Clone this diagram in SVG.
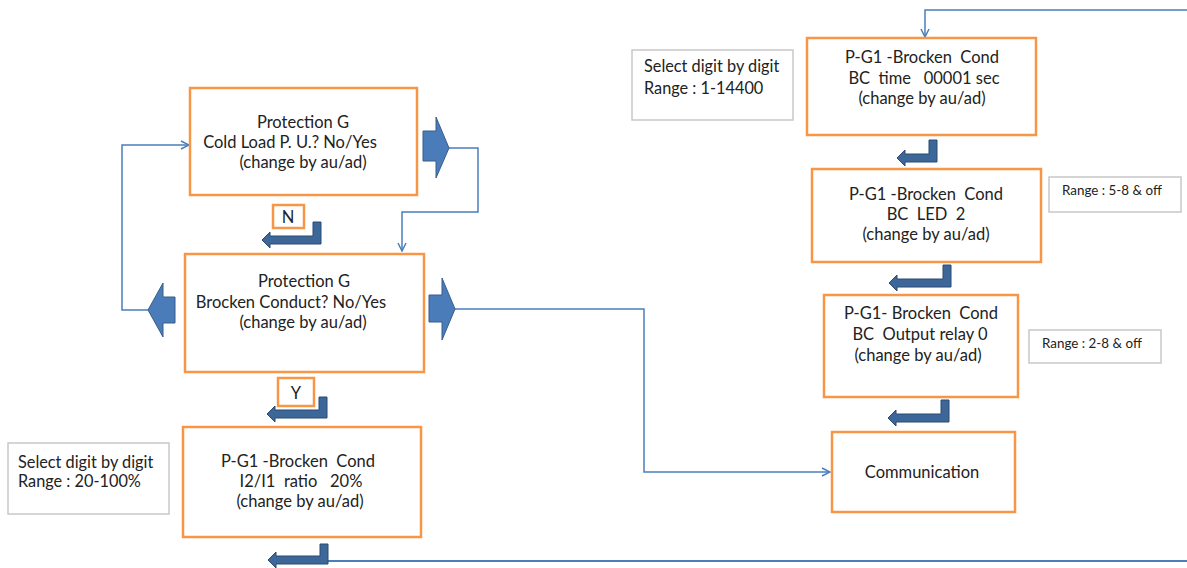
<svg xmlns="http://www.w3.org/2000/svg" width="1187" height="568" viewBox="0 0 1187 568">
<style>
.box{fill:#fff;stroke:#f79646;stroke-width:2.5}
.note{fill:#fff;stroke:#c8c8c8;stroke-width:1.5}
.t{font-family:Lato,"Liberation Sans",sans-serif;fill:#222;text-anchor:middle}
.L{font-size:16.5px}
.R{font-size:16.5px}
.n{font-size:16.3px;text-anchor:start}
.s{font-size:13.4px;text-anchor:start}
.blk{fill:#4a7cb9;stroke:#385d8a;stroke-width:1}
.bent{fill:#3d6699;stroke:#2c4a70;stroke-width:1}
.con{fill:none;stroke:#4a7ebb;stroke-width:1.5}
</style>
<defs>
<marker id="ah" viewBox="0 0 10 10" refX="9" refY="5" markerWidth="10" markerHeight="10" markerUnits="userSpaceOnUse" orient="auto">
<path d="M1,1 L9,5 L1,9" fill="none" stroke="#4a7ebb" stroke-width="1.5"/>
</marker>
</defs>

<g id="connectors">
<path class="con" d="M449,148 H478 V212 H402 V251" marker-end="url(#ah)"/>
<path class="con" d="M148,310 H122 V145 H189" marker-end="url(#ah)"/>
<path class="con" d="M455,309 H644 V472 H830" marker-end="url(#ah)"/>
<path class="con" d="M1187,10 H925 V37" marker-end="url(#ah)"/>
<path class="con" style="stroke-width:2" d="M328,561 H1187"/>
<path class="blk" d="M423,131 H436 V117 L449,148 L436,178 V161 H423 Z"/>
<path class="blk" d="M175,297 H163 V283 L148,310 L163,337 V323 H175 Z"/>
<path class="blk" d="M429,295 H442 V278 L455,309 L442,340 V322 H429 Z"/>
<path class="bent" d="M313,222 H321 V244 H270 V248 L262,240 L270,232 V236 H313 Z"/>
<path class="bent" d="M319,397 H327 V418 H275 V422 L267,414 L275,406 V410 H319 Z"/>
<path class="bent" d="M320,544 H328 V564 H276 V568 L268,560 L276,552 V556 H320 Z"/>
<path class="bent" d="M929,140 H937 V162 H905 V166 L897,158 L905,150 V154 H929 Z"/>
<path class="bent" d="M943,265 H951 V287 H897 V291 L889,283 L897,275 V279 H943 Z"/>
<path class="bent" d="M941,400 H949 V422 H896 V426 L888,418 L896,410 V414 H941 Z"/>
</g>

<g id="box1">
<rect class="box" x="190" y="88" width="227" height="107"/>
<text class="t L" x="303" y="128">Protection G</text>
<text class="t L" x="290" y="148">Cold Load P. U.? No/Yes</text>
<text class="t L" x="303" y="168">(change by au/ad)</text>
</g>

<g id="labelN">
<rect class="box" x="273" y="205" width="31" height="23"/>
<text class="t L" x="288" y="223">N</text>
</g>

<g id="box2">
<rect class="box" x="185" y="254" width="239" height="118"/>
<text class="t L" x="304" y="287">Protection G</text>
<text class="t L" x="291" y="308">Brocken Conduct? No/Yes</text>
<text class="t L" x="303" y="328">(change by au/ad)</text>
</g>

<g id="labelY">
<rect class="box" x="278" y="378" width="36" height="28"/>
<text class="t L" x="296" y="399">Y</text>
</g>

<g id="box3">
<rect class="box" x="183" y="427" width="238" height="110"/>
<text class="t L" x="298" y="467" xml:space="preserve">P-G1 -Brocken  Cond</text>
<text class="t L" x="301" y="487" xml:space="preserve">I2/I1  ratio   20%</text>
<text class="t L" x="300" y="507">(change by au/ad)</text>
</g>

<g id="note1">
<rect class="note" x="8" y="443" width="161" height="71"/>
<text class="t n" x="18" y="468">Select digit by digit</text>
<text class="t n" x="18" y="487">Range : 20-100%</text>
</g>

<g id="boxR1">
<rect class="box" x="807" y="38" width="229" height="97"/>
<text class="t R" x="922" y="63" xml:space="preserve">P-G1 -Brocken  Cond</text>
<text class="t R" x="924" y="84" xml:space="preserve">BC  time   00001 sec</text>
<text class="t R" x="922" y="104">(change by au/ad)</text>
</g>

<g id="note2">
<rect class="note" x="632" y="50" width="161" height="70"/>
<text class="t n" x="644" y="72">Select digit by digit</text>
<text class="t n" x="644" y="94">Range : 1-14400</text>
</g>

<g id="boxR2">
<rect class="box" x="812" y="169" width="229" height="93"/>
<text class="t R" x="926" y="200" xml:space="preserve">P-G1 -Brocken  Cond</text>
<text class="t R" x="926" y="220" xml:space="preserve">BC  LED  2</text>
<text class="t R" x="926" y="240">(change by au/ad)</text>
</g>

<g id="note3">
<rect class="note" x="1049" y="177" width="132" height="35"/>
<text class="t s" x="1062" y="195">Range : 5-8 &amp; off</text>
</g>

<g id="boxR3">
<rect class="box" x="824" y="295" width="194" height="102"/>
<text class="t R" x="921" y="319" xml:space="preserve">P-G1- Brocken  Cond</text>
<text class="t R" x="920" y="340" xml:space="preserve">BC  Output relay 0</text>
<text class="t R" x="918" y="361">(change by au/ad)</text>
</g>

<g id="note4">
<rect class="note" x="1029" y="330" width="132" height="33"/>
<text class="t s" x="1042" y="348">Range : 2-8 &amp; off</text>
</g>

<g id="communication">
<rect class="box" x="832" y="432" width="183" height="80"/>
<text class="t R" x="922" y="478">Communication</text>
</g>
</svg>
